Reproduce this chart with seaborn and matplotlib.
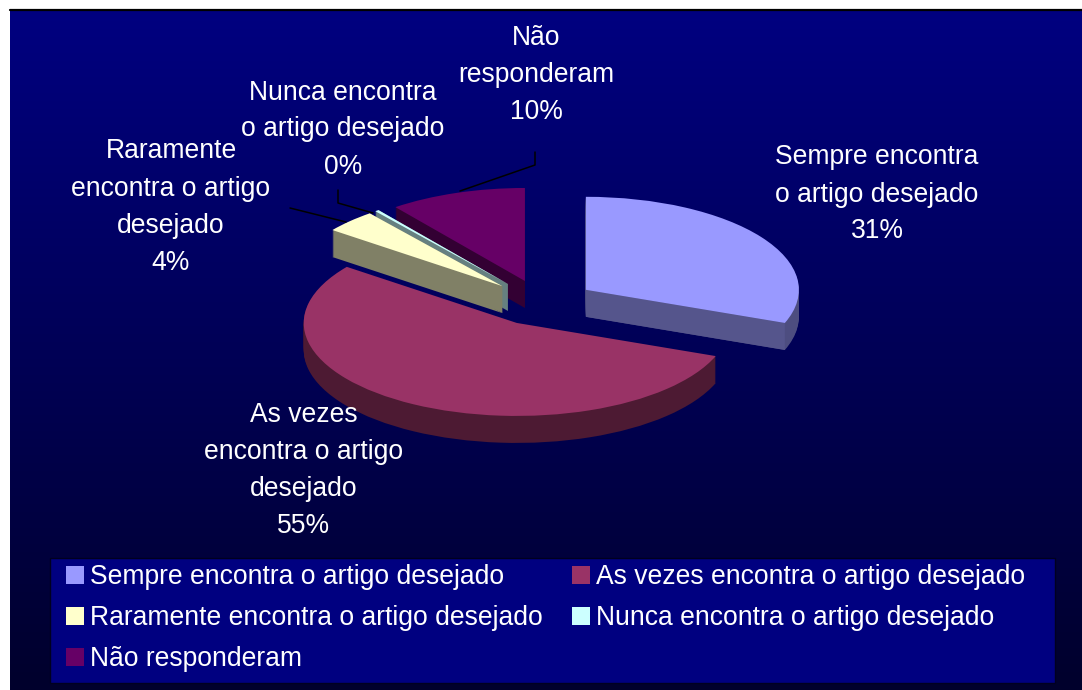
import numpy as np
import seaborn as sns
import matplotlib.pyplot as plt
from matplotlib.lines import Line2D
from matplotlib.patches import Patch, Polygon, Rectangle

# Dados do grafico
categorias = ['Sempre encontra o artigo desejado', 'As vezes encontra o artigo desejado',
              'Raramente encontra o artigo desejado', 'Nunca encontra o artigo desejado',
              'Não responderam']
rotulos = ['Sempre encontra\no artigo desejado\n31%', 'As vezes\nencontra o artigo\ndesejado\n55%',
           'Raramente\nencontra o artigo\ndesejado\n4%', 'Nunca encontra\no artigo desejado\n0%',
           'Não\nresponderam\n10%']
valores = [30.8, 54.5, 4.0, 0.3, 10.4]

cores = ['#9999FF', '#993366', '#FFFFCC', '#CCFFFF', '#660066']
cores_borda = ['#4D4D80', '#4D1A33', '#808066', '#668080', '#330033']
cores_face = ['#55558C', None, '#808066', '#668080', None]
ordem = [1, 4, 3, 2, 0]  # ordem de desenho, do fundo para a frente

W, H = 1082, 690
cx, cy, rx, ry = 542, 303, 213, 93
prof = 27 / ry
explodir = [0.25, 0.245, 0.26, 0.26, 0.25]
fonte = 19.1

sns.set_theme(style='white')
plt.rcParams['font.family'] = ['Liberation Sans', 'DejaVu Sans']

fig = plt.figure(figsize=(W / 100, H / 100), dpi=100, facecolor='white')

# Fundo em degrade
ax_fundo = fig.add_axes([10 / W, 0, (W - 10) / W, 679 / H])
mapa = sns.blend_palette(['#000080', '#00002C'], as_cmap=True)
ax_fundo.imshow(np.linspace(0, 1, 256).reshape(-1, 1), cmap=mapa, aspect='auto')
ax_fundo.axis('off')
fig.add_artist(Line2D([10 / W, 1], [680 / H, 680 / H], color='black', lw=1.6))

ax = fig.add_axes([0, 0, 1, 1])
ax.patch.set_visible(False)

# Parede lateral: a mesma pizza repetida, deslocada para baixo
passos = np.linspace(prof, 0, 28)
for k, d in enumerate(passos):
    ultimo = k == len(passos) - 1
    fatias, _ = ax.pie(valores, explode=explodir, startangle=90, counterclock=False,
                       center=(0, -d), colors=cores if ultimo else cores_borda,
                       wedgeprops={'linewidth': 0}, normalize=True)
    for i, w in enumerate(fatias):
        w.set_zorder(ordem.index(i) * 100 + k + (50 if ultimo else 0))

    # Face radial das fatias viradas para a frente
    if ultimo:
        for i, w in enumerate(fatias):
            if cores_face[i] is None:
                continue
            a = np.deg2rad(w.theta1)
            x0, y0 = w.center
            x1, y1 = x0 + np.cos(a), y0 + np.sin(a)
            ax.add_patch(Polygon([(x0, y0), (x1, y1), (x1, y1 - prof), (x0, y0 - prof)],
                                 facecolor=cores_face[i], edgecolor='none',
                                 zorder=ordem.index(i) * 100 + 40))

ax.set_aspect('auto')
ax.set_xlim(-cx / rx, (W - cx) / rx)
ax.set_ylim(-(H - cy) / ry, cy / ry)

# Rotulos e linhas de chamada
pos_rotulos = [(877, 194.5), (304, 470.5), (171, 207), (343, 129.5), (536, 75)]
for txt, (px, py) in zip(rotulos, pos_rotulos):
    fig.text(px / W, 1 - py / H, txt, color='white', fontsize=fonte, ha='center',
             va='center', linespacing=1.55, zorder=10)

chamadas = [([535, 535, 460], [152, 165, 191]),
            ([338, 338, 373], [190, 203, 213]),
            ([290, 346], [208, 222])]
for xs, ys in chamadas:
    fig.add_artist(Line2D(np.array(xs) / W, 1 - np.array(ys) / H, color='black', lw=1.1))

# Legenda (a coluna da esquerda recebe tres itens)
ax.add_patch(Rectangle((50 / W, 1 - 683 / H), 1005 / W, 125 / H, transform=fig.transFigure,
                       facecolor='#000080', edgecolor='#000020', lw=1, zorder=900))
idx_leg = [0, 2, 4, 1, 3]
alcas = [Patch(facecolor=cores[i], edgecolor='none', label=categorias[i]) for i in idx_leg]
leg = ax.legend(handles=alcas, ncol=2, loc='upper left',
                bbox_to_anchor=(66 / W, 1 - 564.5 / H),
                bbox_transform=fig.transFigure, borderaxespad=0, frameon=False,
                fontsize=fonte, labelcolor='white',
                handlelength=0.67, handleheight=0.67, borderpad=0,
                handletextpad=0.25, labelspacing=0.56, columnspacing=1.09)
leg.set_zorder(1000)

fig.savefig('out.png', dpi=100, facecolor='white')
